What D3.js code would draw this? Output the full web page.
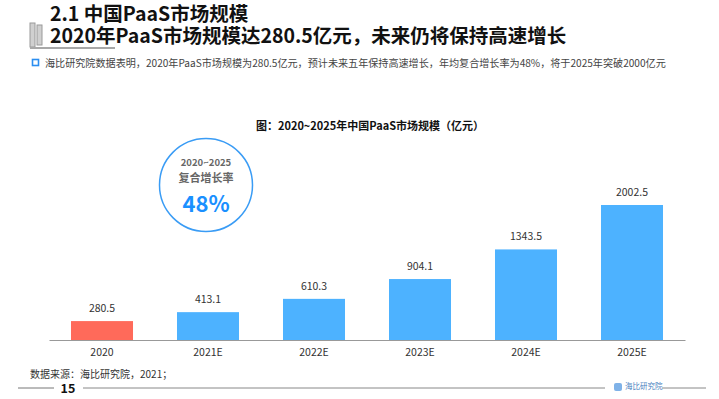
<!DOCTYPE html>
<html><head><meta charset="utf-8">
<script src="https://cdn.jsdelivr.net/npm/d3@7/dist/d3.min.js"></script>
<style>
html,body{margin:0;padding:0;background:#fff;}
svg{display:block;font-family:"Noto Sans CJK SC","Noto Sans",sans-serif;}
</style></head>
<body><svg id="c" width="719" height="399"></svg>
<script>
const categories = ["2020","2021E","2022E","2023E","2024E","2025E"];
const values = [280.5,413.1,610.3,904.1,1343.5,2002.5];
const valueLabels = ["280.5","413.1","610.3","904.1","1343.5","2002.5"];
const title1 = "2.1 中国PaaS市场规模";
const title2 = "2020年PaaS市场规模达280.5亿元，未来仍将保持高速增长";
const subtitle = "海比研究院数据表明，2020年PaaS市场规模为280.5亿元，预计未来五年保持高速增长，年均复合增长率为48%，将于2025年突破2000亿元";
const chartTitle = "图：2020~2025年中国PaaS市场规模（亿元）";
const cagrLines = ["2020~2025","复合增长率","48%"];
const source = "数据来源：海比研究院，2021；";
const pageNum = "15";
const logoText = "海比研究院";

const svg = d3.select("#c");

// decoration
svg.append("rect").attr("x",30).attr("y",23).attr("width",5).attr("height",24).attr("fill","#d0d0d0").attr("stroke","#9a9a9a").attr("stroke-width",1);
svg.append("rect").attr("x",37).attr("y",25).attr("width",5).attr("height",20).attr("fill","#d0d0d0").attr("stroke","#9a9a9a").attr("stroke-width",1);
svg.append("line").attr("x1",30).attr("x2",115).attr("y1",48).attr("y2",48).attr("stroke","#a8a8a8").attr("stroke-width",2);

svg.append("text").attr("x",50).attr("y",21).attr("font-size",19.5).attr("font-weight","bold").attr("fill","#111").text(title1);
svg.append("text").attr("x",50).attr("y",43).attr("font-size",19.5).attr("font-weight","bold").attr("fill","#111").text(title2);

svg.append("rect").attr("x",32.5).attr("y",59.5).attr("width",6).attr("height",6).attr("fill","none").attr("stroke","#2b8ef0").attr("stroke-width",1.6);
svg.append("text").attr("x",45).attr("y",67).attr("font-size",10.1).attr("fill","#444").text(subtitle);

svg.append("text").attr("x",370).attr("y",130).attr("text-anchor","middle").attr("font-size",11).attr("font-weight","bold").attr("fill","#111").text(chartTitle);

// chart
const x = d3.scaleBand().domain(categories).range([49,685]).paddingInner(0.415).paddingOuter(0.2075);
const y = d3.scaleLinear().domain([0,2002.5]).range([340,205]);

svg.selectAll("rect.bar").data(values).enter().append("rect").attr("class","bar")
  .attr("x",(d,i)=>x(categories[i])).attr("width",x.bandwidth())
  .attr("y",d=>y(d)).attr("height",d=>y(0)-y(d))
  .attr("fill",(d,i)=>i===0?"#ff6a5a":"#4db2ff");

svg.selectAll("text.vl").data(values).enter().append("text").attr("class","vl")
  .attr("x",(d,i)=>x(categories[i])+x.bandwidth()/2).attr("y",d=>y(d)-9)
  .attr("text-anchor","middle").attr("font-size",10.5).attr("fill","#333")
  .text((d,i)=>valueLabels[i]);

const xAxis = d3.axisBottom(x).tickSize(0).tickPadding(9);
const ax = svg.append("g").attr("transform","translate(0,340)").call(xAxis);
ax.select(".domain").attr("stroke","#999").attr("stroke-width",1.2);
ax.selectAll("text").attr("font-size",10.5).attr("fill","#333").attr("font-family","'Noto Sans CJK SC','Noto Sans',sans-serif");

// CAGR circle
svg.append("circle").attr("cx",206).attr("cy",185).attr("r",46.5).attr("fill","#fff").attr("stroke","#3a9cf5").attr("stroke-width",1.5);
svg.append("text").attr("x",206).attr("y",166).attr("text-anchor","middle").attr("font-size",9.5).attr("font-weight","bold").attr("fill","#666").text(cagrLines[0]);
svg.append("text").attr("x",206).attr("y",182).attr("text-anchor","middle").attr("font-size",11).attr("font-weight","bold").attr("fill","#666").text(cagrLines[1]);
svg.append("text").attr("x",206).attr("y",212).attr("text-anchor","middle").attr("font-size",22).attr("font-weight","bold").attr("fill","#1a90ff").text(cagrLines[2]);

// footer
svg.append("text").attr("x",30).attr("y",378).attr("font-size",10).attr("fill","#333").text(source);
svg.append("line").attr("x1",18).attr("x2",54).attr("y1",388).attr("y2",388).attr("stroke","#777").attr("stroke-width",1);
svg.append("text").attr("x",68).attr("y",393).attr("text-anchor","middle").attr("font-size",12.5).attr("font-weight","bold").attr("fill","#111").text(pageNum);
svg.append("line").attr("x1",83).attr("x2",605).attr("y1",388).attr("y2",388).attr("stroke","#888").attr("stroke-width",1);
svg.append("rect").attr("x",614).attr("y",383).attr("width",8).attr("height",8).attr("rx",2).attr("fill","#7fb2e8");
svg.append("text").attr("x",625).attr("y",389).attr("font-size",7.5).attr("fill","#4a7fc0").text(logoText);
svg.append("line").attr("x1",662).attr("x2",706).attr("y1",388).attr("y2",388).attr("stroke","#888").attr("stroke-width",1);
</script>
</body></html>
